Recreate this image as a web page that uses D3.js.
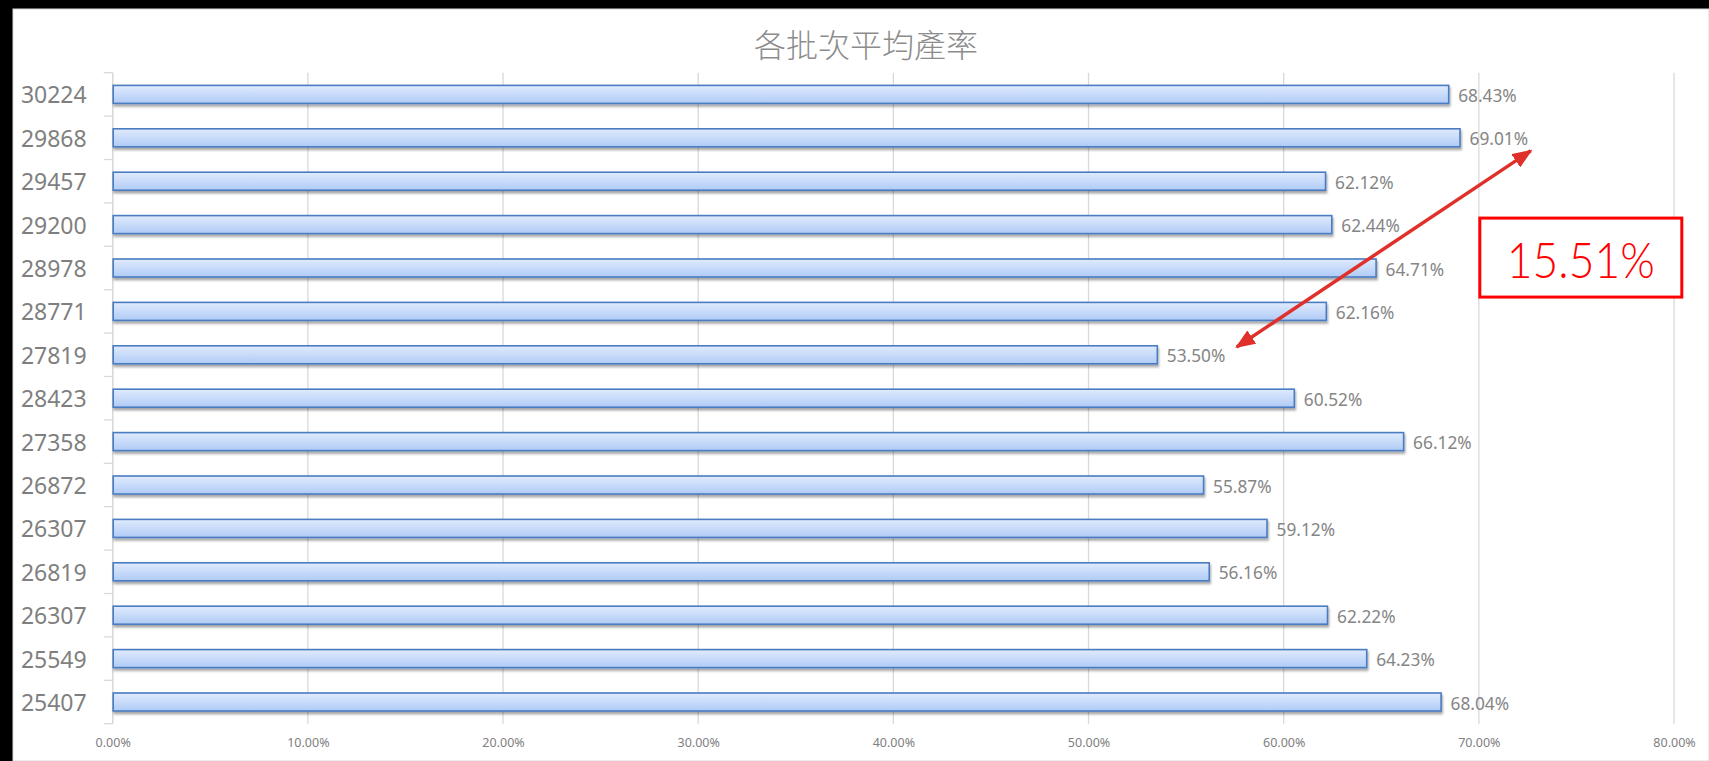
<!DOCTYPE html>
<html>
<head>
<meta charset="utf-8">
<script src="https://cdn.jsdelivr.net/npm/d3@7/dist/d3.min.js"></script>
<style>
  html, body { margin: 0; padding: 0; background: #000; }
  svg { display: block; }
</style>
</head>
<body>
<svg id="chart" width="1709" height="761"></svg>
<script>
// ---- data ----
const title = "各批次平均產率";
const categories = ["30224","29868","29457","29200","28978","28771","27819","28423","27358","26872","26307","26819","26307","25549","25407"];
const values = [0.6843,0.6901,0.6212,0.6244,0.6471,0.6216,0.5350,0.6052,0.6612,0.5587,0.5912,0.5616,0.6222,0.6423,0.6804];
const xTicks = [0,0.1,0.2,0.3,0.4,0.5,0.6,0.7,0.8];
const annotationText = "15.51%";
// annotation anchors in data terms: [value, row position (0 = top of plot)]
const arrowStart = [0.576, 6.32];
const arrowEnd = [0.7266, 1.80];
const boxCorner1 = [0.7005, 3.35];
const boxCorner2 = [0.804, 5.17];

// ---- layout ----
const W = 1709, H = 761;
const plot = { left: 112.7, right: 1674, top: 72.7, bottom: 723.7 };

const svg = d3.select("#chart");

// card background
svg.append("rect").attr("x", 13).attr("y", 9).attr("width", W - 13).attr("height", H - 9)
  .attr("fill", "#fff").attr("stroke", "#d9d9d9").attr("stroke-width", 1);

const defs = svg.append("defs");
const grad = defs.append("linearGradient").attr("id", "barGrad")
  .attr("x1", 0).attr("y1", 0).attr("x2", 0).attr("y2", 1);
grad.append("stop").attr("offset", "0%").attr("stop-color", "#e0ebfd");
grad.append("stop").attr("offset", "100%").attr("stop-color", "#b0cbf6");

const shadow = defs.append("filter").attr("id", "shadow")
  .attr("x", "-5%").attr("y", "-50%").attr("width", "110%").attr("height", "220%");
shadow.append("feDropShadow").attr("dx", 1).attr("dy", 2.5).attr("stdDeviation", 1.3)
  .attr("flood-color", "#000").attr("flood-opacity", 0.35);

const marker = defs.append("marker").attr("id", "arrowHead")
  .attr("viewBox", "0 0 20 16").attr("refX", 18).attr("refY", 8)
  .attr("markerWidth", 20).attr("markerHeight", 16)
  .attr("markerUnits", "userSpaceOnUse").attr("orient", "auto-start-reverse");
marker.append("path").attr("d", "M0,0 L20,8 L0,16 Z").attr("fill", "#e0302a");

// scales
const x = d3.scaleLinear().domain([0, 0.8]).range([plot.left, plot.right]);
const y = d3.scaleBand().domain(d3.range(categories.length)).range([plot.top, plot.bottom]).paddingInner(0.585).paddingOuter(0.2925);
const yRow = d3.scaleLinear().domain([0, categories.length]).range([plot.top, plot.bottom]);

// title
svg.append("text").attr("x", 866).attr("y", 43)
  .attr("text-anchor", "middle").attr("dominant-baseline", "central")
  .attr("font-family", "'Noto Sans CJK TC', 'Noto Sans CJK SC', sans-serif")
  .attr("font-weight", 300)
  .attr("font-size", 32).attr("fill", "#8c8c8c").text(title);

// gridlines
svg.append("g").selectAll("line").data(xTicks).join("line")
  .attr("x1", d => x(d)).attr("x2", d => x(d))
  .attr("y1", plot.top).attr("y2", plot.bottom)
  .attr("stroke", "#d9d9d9").attr("stroke-width", 1.3);

// x axis labels
const fmt = d3.format(".2%");
const xAxis = d3.axisBottom(x).tickValues(xTicks).tickFormat(fmt).tickSize(0).tickPadding(14);
const gx = svg.append("g").attr("transform", `translate(0,${plot.bottom})`).call(xAxis);
gx.select(".domain").remove();
gx.selectAll("text").attr("font-family", "'Noto Sans', sans-serif").attr("font-size", 12.5).attr("fill", "#808080");

// y axis line + ticks at band boundaries
svg.append("line").attr("x1", plot.left).attr("x2", plot.left)
  .attr("y1", plot.top).attr("y2", plot.bottom).attr("stroke", "#d9d9d9").attr("stroke-width", 1.3);
svg.append("g").selectAll("line").data(d3.range(categories.length + 1)).join("line")
  .attr("x1", plot.left - 9).attr("x2", plot.left)
  .attr("y1", d => yRow(d)).attr("y2", d => yRow(d))
  .attr("stroke", "#d9d9d9").attr("stroke-width", 1.3);

// category labels
svg.append("g").selectAll("text").data(categories).join("text")
  .attr("x", plot.left - 26).attr("y", (d, i) => y(i) + y.bandwidth() / 2)
  .attr("text-anchor", "end").attr("dominant-baseline", "central")
  .attr("font-family", "'Noto Sans', sans-serif").attr("font-size", 23)
  .attr("fill", "#7f7f7f").text(d => d);

// bars
svg.append("g").selectAll("rect").data(values).join("rect")
  .attr("x", x(0) + 0.5).attr("y", (d, i) => y(i))
  .attr("width", d => x(d) - x(0)).attr("height", y.bandwidth())
  .attr("fill", "url(#barGrad)").attr("stroke", "#4a7cc0").attr("stroke-width", 1.6)
  .attr("filter", "url(#shadow)");

// value labels
svg.append("g").selectAll("text").data(values).join("text")
  .attr("x", d => x(d) + 10).attr("y", (d, i) => y(i) + y.bandwidth() / 2 + 1)
  .attr("dominant-baseline", "central")
  .attr("font-family", "'Noto Sans', sans-serif").attr("font-size", 17.3)
  .attr("fill", "#858585").text(d => fmt(d));

// annotation arrow (double headed)
svg.append("line")
  .attr("x1", x(arrowStart[0])).attr("y1", yRow(arrowStart[1]))
  .attr("x2", x(arrowEnd[0])).attr("y2", yRow(arrowEnd[1]))
  .attr("stroke", "#e0302a").attr("stroke-width", 3.5)
  .attr("marker-start", "url(#arrowHead)").attr("marker-end", "url(#arrowHead)");

// annotation box
const bx1 = x(boxCorner1[0]), bx2 = x(boxCorner2[0]);
const by1 = yRow(boxCorner1[1]), by2 = yRow(boxCorner2[1]);
svg.append("rect").attr("x", bx1).attr("y", by1).attr("width", bx2 - bx1).attr("height", by2 - by1)
  .attr("fill", "#fff").attr("stroke", "#ff0000").attr("stroke-width", 3);
svg.append("text").attr("x", (bx1 + bx2) / 2).attr("y", (by1 + by2) / 2 + 1)
  .attr("text-anchor", "middle").attr("dominant-baseline", "central")
  .attr("font-family", "Lato, 'Liberation Sans', sans-serif").attr("font-weight", 300)
  .attr("font-size", 50).attr("fill", "#ff0000")
  .attr("textLength", 148).attr("lengthAdjust", "spacingAndGlyphs")
  .text(annotationText);
</script>
</body>
</html>
